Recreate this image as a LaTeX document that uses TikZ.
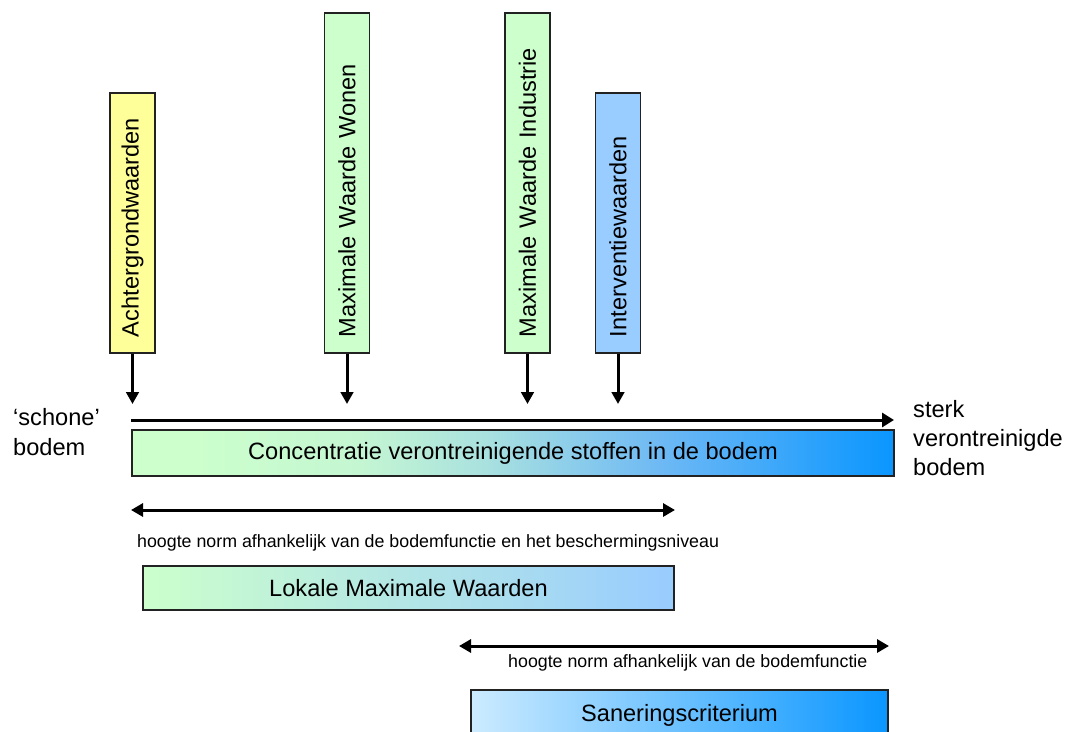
\documentclass[tikz,border=0pt]{standalone}
\usepackage{fontspec}
\setmainfont{Liberation Sans}
\usetikzlibrary{arrows.meta}
\definecolor{ylw}{HTML}{FFFF99}
\definecolor{grn}{HTML}{CCFFCC}
\definecolor{lblue}{HTML}{99CCFF}
\definecolor{dblue}{HTML}{0A96FF}
\definecolor{pblue}{HTML}{CCEBFF}
\definecolor{edge}{HTML}{222222}
\definecolor{cA}{HTML}{CCFFCC}
\definecolor{cB}{HTML}{C4F6D2}
\definecolor{cC}{HTML}{A8E0E0}
\definecolor{cD}{HTML}{6CB8F5}
\definecolor{cE}{HTML}{0A96FF}
\pgfdeclarehorizontalshading{concshade}{100bp}{color(0bp)=(cA); color(25bp)=(cA); color(29bp)=(cA); color(40bp)=(cB); color(48.5bp)=(cC); color(60bp)=(cD); color(75bp)=(cE); color(100bp)=(cE)}
\begin{document}
\begin{tikzpicture}[x=1pt,y=-1pt,
  bigfont/.style={font=\fontsize{23.6}{29}\selectfont},
  smallfont/.style={font=\fontsize{17.8}{22}\selectfont},
  vbox/.style={draw=edge, line width=1.3pt, rotate=90, minimum height=45,
    inner xsep=16, inner ysep=0, text width=#1, align=left, bigfont},
  bar/.style={draw=edge, line width=1.3pt, bigfont, inner sep=0},
  pointer/.style={line width=3pt, -{Triangle[length=12pt,width=12.5pt]}},
  twoway/.style={line width=3pt, {Triangle[length=12pt,width=13pt]}-{Triangle[length=12pt,width=13pt]}},
  lbl/.style={bigfont, anchor=base west, inner sep=0},
  note/.style={smallfont, anchor=base west, inner sep=0}]
\clip (0,0) rectangle (1067,731);
\fill[white] (0,0) rectangle (1067,731);

% top boxes
\node[vbox=228, fill=ylw] (achter) at (132.5,223) {Achtergrondwaarden};
\node[vbox=308, fill=grn] (wonen) at (347,183) {Maximale Waarde Wonen};
\node[vbox=308, fill=grn] (indus) at (527.5,183) {Maximale Waarde Industrie};
\node[vbox=228, fill=lblue] (inter) at (618,223) {Interventiewaarden};

% pointer arrows
\coordinate (achterTip) at (132.5,404);
\coordinate (wonenTip) at (347,404);
\coordinate (indusTip) at (527.5,404);
\coordinate (interTip) at (618,404);
\draw[pointer] (achter.west) -- (achterTip);
\draw[pointer] (wonen.west) -- (wonenTip);
\draw[pointer] (indus.west) -- (indusTip);
\draw[pointer] (inter.west) -- (interTip);

% main axis
\coordinate (axL) at (131,420);
\coordinate (axR) at (894,420);
\draw[line width=3pt, -{Triangle[length=12pt,width=14pt]}] (axL) -- (axR);

% concentration bar
\node[bar, minimum width=762, minimum height=46, shading=concshade] (conc) at (513,453)
  {Concentratie verontreinigende stoffen in de bodem};

% side labels
\node[lbl] (sch1) at (13,425) {‘schone’};
\node[lbl] (sch2) at (13,455) {bodem};
\node[lbl] (st1) at (913,417) {sterk};
\node[lbl] (st2) at (913,446) {verontreinigde};
\node[lbl] (st3) at (913,475) {bodem};

% first range
\coordinate (d1L) at (131,510);
\coordinate (d1R) at (675,510);
\draw[twoway] (d1L) -- (d1R);
\node[note] (norm1) at (137,547) {hoogte norm afhankelijk van de bodemfunctie en het beschermingsniveau};

\node[bar, minimum width=531, minimum height=44,
  left color=grn, right color=lblue] (lok) at (408.5,588) {Lokale Maximale Waarden};

% second range
\coordinate (d2L) at (459,646);
\coordinate (d2R) at (889,646);
\draw[twoway] (d2L) -- (d2R);
\node[note] (norm2) at (508,667) {hoogte norm afhankelijk van de bodemfunctie};

\node[bar, minimum width=417, minimum height=50,
  left color=pblue, middle color=lblue, right color=dblue] (san) at (679.5,715) {Saneringscriterium};
\end{tikzpicture}
\end{document}
